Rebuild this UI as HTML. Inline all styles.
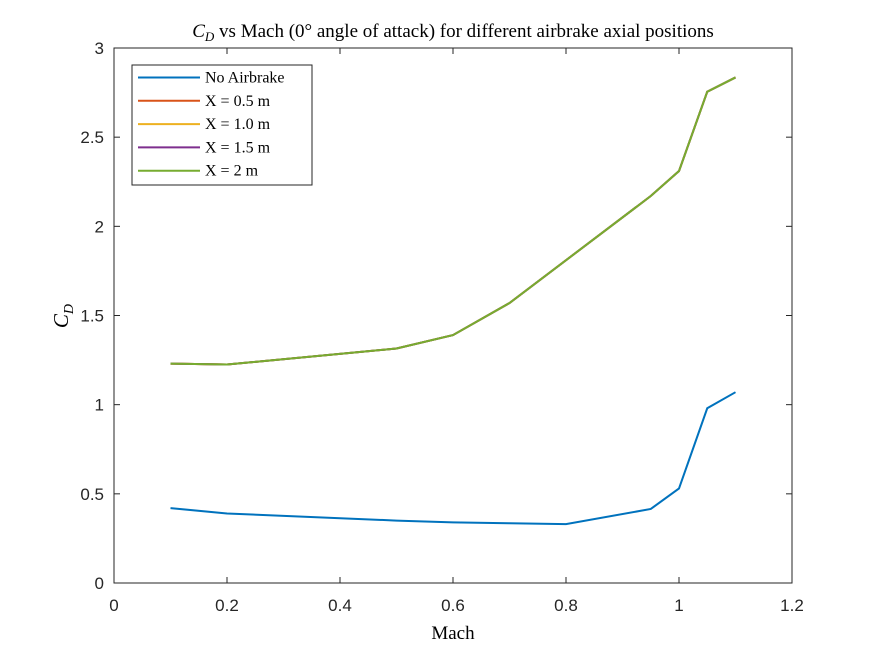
<!DOCTYPE html>
<html><head><meta charset="utf-8"><style>
body{margin:0;background:#fff}
svg text{font-family:"Liberation Sans",Arial,sans-serif}
.serif{font-family:"Liberation Serif","DejaVu Serif",serif}
</style></head><body>
<svg id="chart" width="875" height="656" xmlns="http://www.w3.org/2000/svg">
<rect width="875" height="656" fill="#fff"/>
<g id="plot"></g>
</svg>
<script>
const mach = [0.1,0.2,0.5,0.6,0.7,0.8,0.95,1.0,1.05,1.1];
const noAirbrake = [0.42,0.39,0.35,0.34,0.335,0.33,0.415,0.53,0.98,1.07];
const machB = [0.1,0.2,0.5,0.6,0.7,0.95,1.0,1.05,1.1];
const x05 = [1.23,1.225,1.315,1.39,1.57,2.17,2.31,2.755,2.835];
const x10 = [1.23,1.225,1.315,1.39,1.57,2.17,2.31,2.755,2.835];
const x15 = [1.23,1.225,1.315,1.39,1.57,2.17,2.31,2.755,2.835];
const x20 = [1.23,1.225,1.315,1.39,1.57,2.17,2.31,2.755,2.835];
const xTicks = ['0','0.2','0.4','0.6','0.8','1','1.2'];
const yTicks = ['0','0.5','1','1.5','2','2.5','3'];
const seriesNames = ['No Airbrake','X = 0.5 m','X = 1.0 m','X = 1.5 m','X = 2 m'];
const colors = ['#0072BD','#D95319','#EDB120','#7E2F8E','#77AC30'];

const L=114,R=792,T=48,B=583;
const sx=v=>L+(v/1.2)*(R-L);
const sy=v=>B-(v/3)*(B-T);
const NS='http://www.w3.org/2000/svg';
const g=document.getElementById('plot');
function mk(tag,attrs,parent){const e=document.createElementNS(NS,tag);for(const k in attrs)e.setAttribute(k,attrs[k]);(parent||g).appendChild(e);return e;}

const axes=mk('rect',{x:L,y:T,width:R-L,height:B-T,fill:'#fff',stroke:'#262626','stroke-width':1});



xTicks.forEach(t=>{const x=sx(parseFloat(t));
 mk('line',{x1:x,x2:x,y1:B,y2:B-6,stroke:'#262626'});mk('line',{x1:x,x2:x,y1:T,y2:T+6,stroke:'#262626'});
 const tx=mk('text',{x:x,y:611,'text-anchor':'middle','font-size':17,fill:'#262626'});tx.textContent=t;
 
 
});
yTicks.forEach(t=>{const y=sy(parseFloat(t));
 mk('line',{x1:L,x2:L+6,y1:y,y2:y,stroke:'#262626'});mk('line',{x1:R,x2:R-6,y1:y,y2:y,stroke:'#262626'});
 const tx=mk('text',{x:104,y:y+6,'text-anchor':'end','font-size':17,fill:'#262626'});tx.textContent=t;
 
 
});

const allY=[noAirbrake,x05,x10,x15,x20];
allY.forEach((ys,i)=>{const xs=i===0?mach:machB;
 const p=mk('polyline',{points:xs.map((m,j)=>sx(m)+','+sy(ys[j])).join(' '),fill:'none',stroke:colors[i],'stroke-width':2});
 
 
});

const lg=mk('g',{});


mk('rect',{x:132,y:65,width:180,height:120,fill:'#fff',stroke:'#262626'},lg);
seriesNames.forEach((n,i)=>{const y=77.5+i*23.3;
 const ln=mk('line',{x1:138,x2:200,y1:y,y2:y,stroke:colors[i],'stroke-width':2},lg);
 
 
 const t=mk('text',{x:205,y:y+5,'font-size':16,fill:'#000',class:'serif'},lg);t.textContent=n;
 
 
});
</script>
<svg width="875" height="656" style="position:absolute;left:0;top:0" xmlns="http://www.w3.org/2000/svg">
<text class="serif" x="453" y="37" text-anchor="middle" font-size="19" fill="#000"><tspan font-style="italic">C</tspan><tspan font-style="italic" font-size="13" dy="4">D</tspan><tspan dy="-4"> vs Mach (0° angle of attack) for different airbrake axial positions</tspan></text>
<text class="serif" x="453" y="639" text-anchor="middle" font-size="19" fill="#000">Mach</text>
<text class="serif" transform="translate(68,316) rotate(-90)" text-anchor="middle" font-size="21" fill="#000"><tspan font-style="italic">C</tspan><tspan font-style="italic" font-size="14" dy="5">D</tspan></text>
</svg>
</body></html>
